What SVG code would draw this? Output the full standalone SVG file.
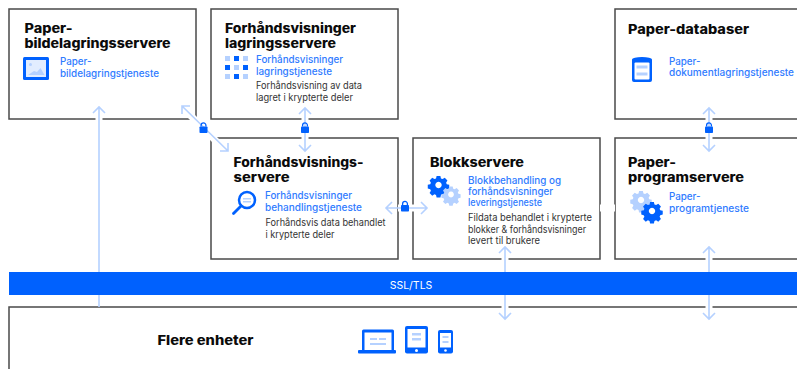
<svg xmlns="http://www.w3.org/2000/svg" width="797" height="369" viewBox="0 0 797 369">
<style>
.box{fill:#fff;stroke:#4a4a4a;stroke-width:1.5}
text{font-family:"Inter","Liberation Sans",sans-serif}
.h{font-size:13px;font-weight:800;fill:#0b0b0b}
.s{font-size:9.8px;font-weight:500;fill:#2f7bff}
.d{font-size:9.8px;fill:#333}
.halo{stroke:#fff;stroke-width:7;fill:none}
.arr{stroke:#b5d1ff;stroke-width:1.6;fill:none}
.b{fill:#0061fe}
.l{fill:#b5d1ff}
</style>
<defs>
<g id="lock"><rect x="-4" y="-2" width="8" height="6.5" rx="0.8" class="b"/><path d="M-2.4-2v-1.2a2.4 2.4 0 0 1 4.8 0V-2" fill="none" stroke="#0061fe" stroke-width="1.3"/></g>
<path id="gear" d="M-2-9.5h4l.6 2.6 1.7.7 2.3-1.4 2.8 2.8-1.4 2.3.7 1.7 2.6.6v4l-2.6.6-.7 1.7 1.4 2.3-2.8 2.8-2.3-1.4-1.7.7-.6 2.6h-4l-.6-2.6-1.7-.7-2.3 1.4-2.8-2.8 1.4-2.3-.7-1.7-2.6-.6v-4l2.6-.6.7-1.7-1.4-2.3 2.8-2.8 2.3 1.4 1.7-.7zM0-3.4a3.4 3.4 0 1 0 .01 0z" fill-rule="evenodd"/>
</defs>
<g id="node-bilde"><rect class="box" x="9" y="9" width="187" height="110"/>
<text class="h" x="24.500" y="33" textLength="48" lengthAdjust="spacingAndGlyphs">Paper-</text><text class="h" x="24.500" y="48" textLength="146" lengthAdjust="spacingAndGlyphs">bildelagringsservere</text>
<rect x="23" y="57" width="26" height="23" rx="1.500" class="b"/><rect x="26" y="60" width="20" height="17" fill="#e2edff"/><path d="M28 75l6-4 3 1 3.500-4 4 7z" class="l"/><circle cx="30.500" cy="64.500" r="1.500" class="l"/>
<text class="s" x="60" y="65">Paper-</text><text class="s" x="60" y="76.500" textLength="99" lengthAdjust="spacingAndGlyphs">bildelagringstjeneste</text></g>
<g id="node-forh-lagring"><rect class="box" x="211" y="9" width="187" height="110"/>
<text class="h" x="225" y="33" textLength="131" lengthAdjust="spacingAndGlyphs">Forhåndsvisninger</text><text class="h" x="225" y="48" textLength="111" lengthAdjust="spacingAndGlyphs">lagringsservere</text>
<g class="l"><rect x="225" y="56" width="5" height="5"/><rect x="243" y="56" width="5" height="5"/><rect x="234" y="65" width="5" height="5"/><rect x="225" y="74" width="5" height="5"/><rect x="243" y="74" width="5" height="5"/></g>
<g class="b"><rect x="234" y="56" width="5" height="5"/><rect x="225" y="65" width="5" height="5"/><rect x="243" y="65" width="5" height="5"/><rect x="234" y="74" width="5" height="5"/></g>
<text class="s" x="256" y="63" textLength="87" lengthAdjust="spacingAndGlyphs">Forhåndsvisninger</text><text class="s" x="256" y="74.500" textLength="76" lengthAdjust="spacingAndGlyphs">lagringstjeneste</text>
<text class="d" x="256" y="89" textLength="106" lengthAdjust="spacingAndGlyphs">Forhåndsvisning av data</text><text class="d" x="256" y="100.500" textLength="97" lengthAdjust="spacingAndGlyphs">lagret i krypterte deler</text></g>
<g id="node-databaser"><rect class="box" x="615" y="9" width="190" height="110"/>
<text class="h" x="628" y="33.500" textLength="121" lengthAdjust="spacingAndGlyphs">Paper-databaser</text>
<path d="M632 59.500a10 2.500 0 0 1 20 0V80a2 2 0 0 1-2 2h-16a2 2 0 0 1-2-2z" class="b"/><rect x="634.500" y="62.500" width="15" height="17" rx="1" fill="#fff"/><rect x="636.500" y="65.500" width="11" height="3" class="l"/><rect x="636.500" y="72.500" width="11" height="3" class="l"/>
<text class="s" x="669" y="65">Paper-</text><text class="s" x="669" y="76" textLength="125" lengthAdjust="spacingAndGlyphs">dokumentlagringstjeneste</text></g>
<g id="node-forh-server"><rect class="box" x="211" y="138" width="187" height="121"/>
<text class="h" x="233.500" y="167" textLength="130" lengthAdjust="spacingAndGlyphs">Forhåndsvisnings-</text><text class="h" x="233.500" y="181.500" textLength="56" lengthAdjust="spacingAndGlyphs">servere</text>
<circle cx="247" cy="200" r="8" fill="#fff" stroke="#0061fe" stroke-width="2.500"/><path d="M241 206l-7.500 7.500" stroke="#0061fe" stroke-width="2.800" stroke-linecap="round"/><rect x="243" y="198" width="8" height="1.500" class="l"/><rect x="243" y="201" width="8" height="1.500" class="l"/>
<text class="s" x="265" y="199" textLength="87" lengthAdjust="spacingAndGlyphs">Forhåndsvisninger</text><text class="s" x="265" y="210.500" textLength="97" lengthAdjust="spacingAndGlyphs">behandlingstjeneste</text>
<text class="d" x="265.500" y="226" textLength="120" lengthAdjust="spacingAndGlyphs">Forhåndsvis data behandlet</text><text class="d" x="265.500" y="238" textLength="69" lengthAdjust="spacingAndGlyphs">i krypterte deler</text></g>
<g id="node-blokk"><rect class="box" x="413" y="138" width="187" height="121"/>
<text class="h" x="430" y="167" textLength="94" lengthAdjust="spacingAndGlyphs">Blokkservere</text>
<use href="#gear" transform="translate(438.500 185) scale(.95)" class="b"/><use href="#gear" transform="translate(451 194.500) scale(.85)" class="l"/>
<text class="s" x="468" y="184" textLength="93" lengthAdjust="spacingAndGlyphs">Blokkbehandling og</text><text class="s" x="468" y="195" textLength="85" lengthAdjust="spacingAndGlyphs">forhåndsvisninger</text><text class="s" x="468" y="206" textLength="74" lengthAdjust="spacingAndGlyphs">leveringstjeneste</text>
<text class="d" x="468" y="221" textLength="124" lengthAdjust="spacingAndGlyphs">Fildata behandlet i krypterte</text><text class="d" x="468" y="233" textLength="118" lengthAdjust="spacingAndGlyphs">blokker &amp; forhåndsvisninger</text><text class="d" x="468" y="244" textLength="72" lengthAdjust="spacingAndGlyphs">levert til brukere</text></g>
<g id="node-program"><rect class="box" x="615" y="138" width="190" height="121"/>
<text class="h" x="628" y="167" textLength="48" lengthAdjust="spacingAndGlyphs">Paper-</text><text class="h" x="628" y="181.500" textLength="116" lengthAdjust="spacingAndGlyphs">programservere</text>
<use href="#gear" transform="translate(641 200) scale(.95)" class="l"/><use href="#gear" transform="translate(652 211) scale(.95)" class="b"/>
<text class="s" x="669" y="200">Paper-</text><text class="s" x="669" y="211.500" textLength="80" lengthAdjust="spacingAndGlyphs">programtjeneste</text></g>
<g id="node-enheter"><rect class="box" x="9" y="307" width="800" height="80"/>
<text class="h" x="157.500" y="345" textLength="96" lengthAdjust="spacingAndGlyphs">Flere enheter</text>
<path d="M362 331a1.500 1.500 0 0 1 1.500-1.500h29a1.500 1.500 0 0 1 1.500 1.500v19h-32z" class="b"/><rect x="358" y="350" width="38" height="3.500" rx="1" class="b"/><rect x="364.500" y="332.500" width="27" height="17.500" fill="#fff"/><g class="l"><rect x="370" y="338" width="7" height="2"/><rect x="379" y="338" width="7" height="2"/><rect x="370" y="343" width="16" height="2"/></g>
<rect x="405" y="326" width="23" height="27.500" rx="2" class="b"/><rect x="407.500" y="329" width="18" height="18.500" fill="#fff"/><g class="l"><rect x="412" y="333" width="9" height="2.500"/><rect x="412" y="338" width="9" height="2.500"/></g><circle cx="416.500" cy="350.500" r="1.500" fill="#fff"/>
<rect x="438" y="330" width="15" height="23.500" rx="2" class="b"/><rect x="440" y="333" width="11" height="14.500" fill="#fff"/><g class="l"><rect x="442.500" y="336" width="6" height="2"/><rect x="442.500" y="341" width="6" height="2"/></g><circle cx="445.500" cy="350.500" r="1.300" fill="#fff"/></g>
<g id="node-ssl"><rect x="9" y="272" width="788" height="23" class="b"/>
<text x="411" y="289" font-size="10.500" fill="#fff" text-anchor="middle">SSL/TLS</text></g>
<g id="connectors">
<path class="halo" d="M99 116V130M183 108L225 150M305 116V142M505 250V262M505 300V309M709 116V142M709 250V262M709 300V309M398 208h17M600 208h15"/>
<path class="arr" d="M99 272V107.500M93 113l6-6 6 6"/><path class="arr" d="M99 295V307"/>
<path class="arr" d="M182 106L228 151M182 114V106h8M220 151h8v-8"/>
<path class="arr" d="M305 108V151M299 114l6-6 6 6M299 145l6 6 6-6"/>
<path class="arr" d="M386 208H427M392 202l-6 6 6 6M421 202l6 6-6 6"/>
<path class="arr" d="M505 272V247M499 253l6-6 6 6M505 295V319M499 313l6 6 6-6"/>
<path class="arr" d="M709 108V151M703 114l6-6 6 6M703 145l6 6 6-6"/>
<path class="arr" d="M709 272V247M703 253l6-6 6 6M709 295V319M703 313l6 6 6-6"/>
<use href="#lock" x="203.500" y="128.500"/><use href="#lock" x="305" y="128.500"/><use href="#lock" x="405" y="207"/><use href="#lock" x="709" y="128.500"/>
</g>
</svg>
